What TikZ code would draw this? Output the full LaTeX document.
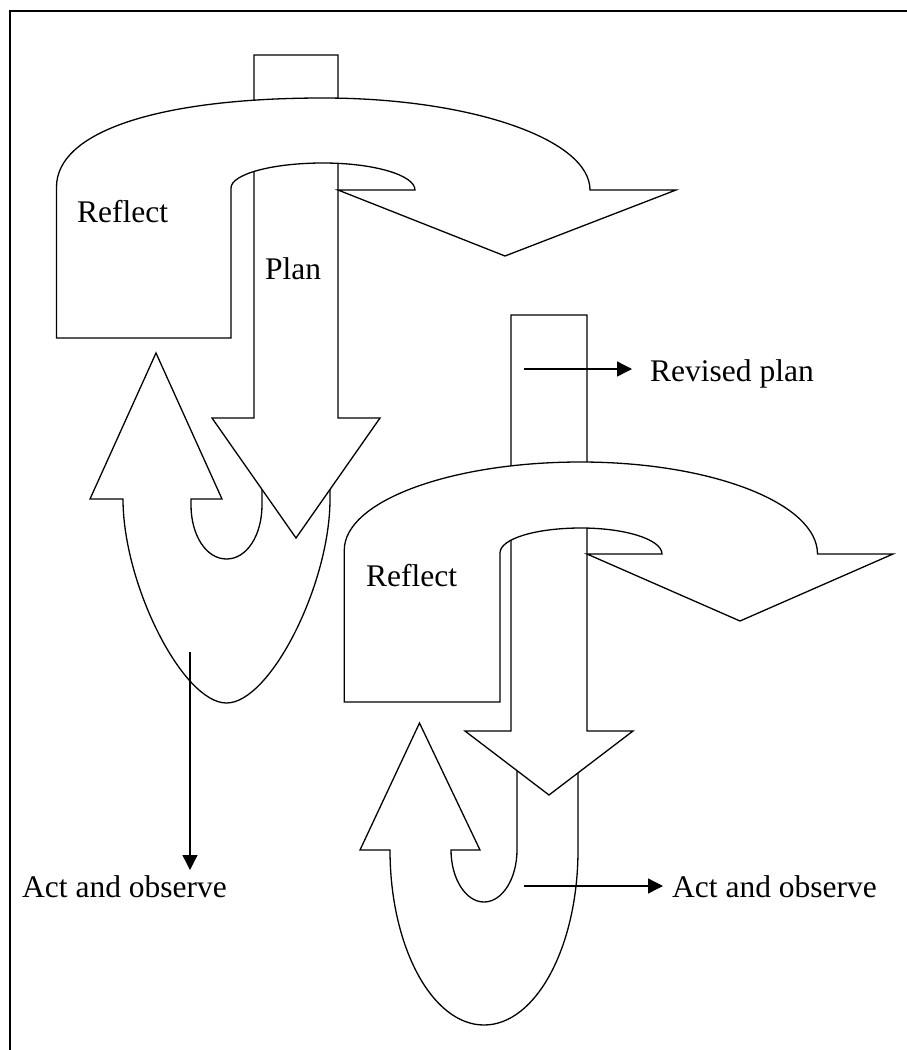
\documentclass[tikz,border=0pt]{standalone}
\usepackage{fontspec}
\setmainfont{Liberation Serif}
\usetikzlibrary{arrows.meta}
\begin{document}
\begin{tikzpicture}[x=1pt,y=-1pt,
  blk/.style={draw=black,fill=white,line width=1.3pt,line join=miter},
  lbl/.style={inner sep=0pt,anchor=base west,font=\fontsize{31.5}{36}\selectfont},
  conn/.style={draw=black,line width=1.3pt,-{Triangle[length=15pt,width=15pt]}}]
\useasboundingbox (0,0) rectangle (907,1050);
% frame (cropped)
\coordinate (fbl) at (10,1050);
\coordinate (ftl) at (10,11);
\coordinate (ftr) at (907,11);
\draw[line width=1.6pt] (fbl) -- (ftl) -- (ftr);

% ---------- group 1 ----------
\path[blk] (123,499) -- (90,499) -- (156,353) -- (222,499) -- (191,499) -- (191,505)
  .. controls (191,535) and (206,559) .. (226.5,559)
  .. controls (247,559) and (262,535) .. (262,505) -- (262,470) -- (330,470) -- (330,499)
  .. controls (330,584.7) and (270,703) .. (226.5,703)
  .. controls (183,703) and (123,584.7) .. cycle;
\path[blk] (254,55) -- (338,55) -- (338,418) -- (380,418) -- (296,538) -- (212,418) -- (254,418) -- cycle;
\path[blk] (56.5,338) -- (56.5,187)
  .. controls (56.5,131.8) and (157.8,98) .. (323,98)
  .. controls (470.4,98) and (590,139.2) .. (590,190)
  -- (676,190) -- (505,256) -- (338,190) -- (415,190)
  .. controls (415,175.1) and (373.8,163) .. (323,163)
  .. controls (272.2,163) and (231,174.2) .. (231,188)
  -- (231,338) -- cycle;

% ---------- group 2 ----------
\path[blk] (390,850) -- (360,850) -- (419.5,723) -- (480,850) -- (451,850)
  .. controls (451,878.7) and (465.8,902) .. (484,902)
  .. controls (502.2,902) and (517,878.7) .. (517,850) -- (517,760) -- (578,760) -- (578,850)
  .. controls (578,946.6) and (535.9,1025) .. (484,1025)
  .. controls (432.1,1025) and (390,946.6) .. cycle;
\path[blk] (511,315) -- (587,315) -- (587,731) -- (633,731) -- (549,795) -- (465,731) -- (511,731) -- cycle;
\path[blk] (344.3,702) -- (344.3,550)
  .. controls (344.3,501.4) and (450.1,462) .. (580.5,462)
  .. controls (711.3,462) and (817.5,503.2) .. (817.5,554)
  -- (893,554) -- (740,621) -- (587,554) -- (662,554)
  .. controls (662,539.6) and (625.7,528) .. (581,528)
  .. controls (536.3,528) and (500,538.6) .. (500,553)
  -- (500,702) -- cycle;

% ---------- labels ----------
\node[lbl] (reflect1) at (77,222.7) {Reflect};
\node[lbl] (plan) at (265,279) {Plan};
\node[lbl] (reflect2) at (366,586) {Reflect};
\node[lbl] (revised) at (650,381.7) {Revised plan};
\node[lbl] (act1) at (22,897) {Act and observe};
\node[lbl] (act2) at (672,897) {Act and observe};

% ---------- connectors ----------
\coordinate (a1s) at (190,652);
\coordinate (a1e) at (190,870);
\coordinate (rps) at (524,369);
\coordinate (rpe) at (632,369);
\coordinate (a2s) at (524,886);
\coordinate (a2e) at (663,886);
\draw[conn] (a1s) -- (a1e);
\draw[conn] (rps) -- (rpe);
\draw[conn] (a2s) -- (a2e);
\end{tikzpicture}
\end{document}
